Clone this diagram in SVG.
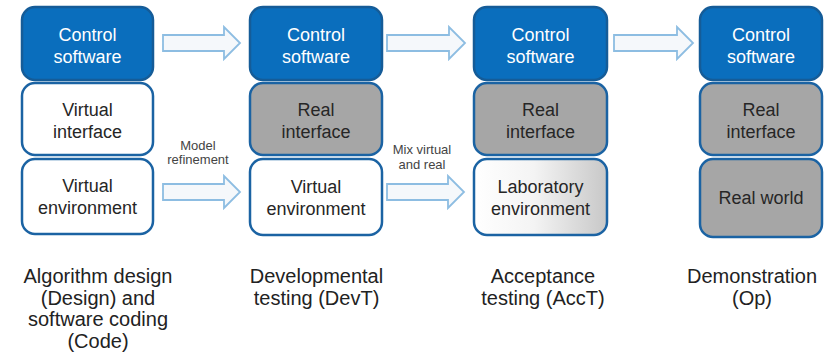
<svg xmlns="http://www.w3.org/2000/svg" width="830" height="354" viewBox="0 0 830 354">
<defs>
<linearGradient id="lab" x1="0" y1="0" x2="1" y2="0">
<stop offset="0" stop-color="#ffffff"/>
<stop offset="0.45" stop-color="#f4f4f4"/>
<stop offset="1" stop-color="#c8c8c8"/>
</linearGradient>
<style>
.blue{fill:#0a6ebd;stroke:#155c98;stroke-width:2.5}
.white{fill:#ffffff;stroke:#1b63a3;stroke-width:2.5}
.grey{fill:#a6a6a6;stroke:#1b63a3;stroke-width:2.5}
.lab{fill:url(#lab);stroke:#1b63a3;stroke-width:2.5}
text{font-family:"Liberation Sans",Arial,sans-serif;text-anchor:middle}
.tw{fill:#ffffff;font-size:18px}
.td{fill:#262626;font-size:18px}
.cap{fill:#222222;font-size:20px}
.lbl{fill:#444444;font-size:13px}
.arr{fill:#f5f8fb;stroke:#8dbde2;stroke-width:1.8}
</style>
</defs>
<rect width="830" height="354" fill="#ffffff"/>

<g id="connectors">
<path class="arr" d="M163,35 H224 V27 L240,43 L224,59 V51 H163 Z"/>
<path class="arr" d="M387,35 H449 V27 L465,43 L449,59 V51 H387 Z"/>
<path class="arr" d="M614,35 H677 V27 L693,43 L677,59 V51 H614 Z"/>
<path class="arr" d="M163,184 H224 V176 L240,192 L224,208 V200 H163 Z"/>
<path class="arr" d="M387,184 H448 V176 L464,192 L448,208 V200 H387 Z"/>
<text class="lbl" x="198" y="150">Model</text>
<text class="lbl" x="198" y="164">refinement</text>
<text class="lbl" x="422" y="154">Mix virtual</text>
<text class="lbl" x="422" y="169">and real</text>
</g>

<g id="c1-control"><rect class="blue" x="22" y="7" width="131" height="73" rx="13"/><text class="tw" x="87.5" y="41">Control</text><text class="tw" x="87.5" y="63">software</text></g>
<g id="c1-interface"><rect class="white" x="22" y="83" width="131" height="72" rx="13"/><text class="td" x="87.5" y="116">Virtual</text><text class="td" x="87.5" y="138">interface</text></g>
<g id="c1-environment"><rect class="white" x="22" y="159" width="131" height="75" rx="13"/><text class="td" x="87.5" y="192">Virtual</text><text class="td" x="87.5" y="214">environment</text></g>

<g id="c2-control"><rect class="blue" x="250" y="7" width="132" height="73" rx="13"/><text class="tw" x="316" y="41">Control</text><text class="tw" x="316" y="63">software</text></g>
<g id="c2-interface"><rect class="grey" x="250" y="83" width="132" height="72" rx="13"/><text class="td" x="316" y="116">Real</text><text class="td" x="316" y="138">interface</text></g>
<g id="c2-environment"><rect class="white" x="250" y="159" width="132" height="76" rx="13"/><text class="td" x="316" y="193">Virtual</text><text class="td" x="316" y="215">environment</text></g>

<g id="c3-control"><rect class="blue" x="474" y="7" width="133" height="73" rx="13"/><text class="tw" x="540.5" y="41">Control</text><text class="tw" x="540.5" y="63">software</text></g>
<g id="c3-interface"><rect class="grey" x="474" y="83" width="133" height="72" rx="13"/><text class="td" x="540.5" y="116">Real</text><text class="td" x="540.5" y="138">interface</text></g>
<g id="c3-environment"><rect class="lab" x="474" y="159" width="133" height="76" rx="13"/><text class="td" x="540.5" y="193">Laboratory</text><text class="td" x="540.5" y="215">environment</text></g>

<g id="c4-control"><rect class="blue" x="700" y="7" width="122" height="73" rx="13"/><text class="tw" x="761" y="41">Control</text><text class="tw" x="761" y="63">software</text></g>
<g id="c4-interface"><rect class="grey" x="700" y="83" width="122" height="72" rx="13"/><text class="td" x="761" y="116">Real</text><text class="td" x="761" y="138">interface</text></g>
<g id="c4-world"><rect class="grey" x="700" y="159" width="122" height="78" rx="13"/><text class="td" x="761" y="204">Real world</text></g>

<g id="stage-design"><text class="cap" x="98" y="283">Algorithm design</text><text class="cap" x="98" y="304.5">(Design) and</text><text class="cap" x="98" y="326">software coding</text><text class="cap" x="98" y="347.5">(Code)</text></g>
<g id="stage-devt"><text class="cap" x="316.5" y="283">Developmental</text><text class="cap" x="316.5" y="304.5">testing (DevT)</text></g>
<g id="stage-acct"><text class="cap" x="543" y="283">Acceptance</text><text class="cap" x="543" y="304.5">testing (AccT)</text></g>
<g id="stage-op"><text class="cap" x="752" y="283">Demonstration</text><text class="cap" x="752" y="304.5">(Op)</text></g>
</svg>
